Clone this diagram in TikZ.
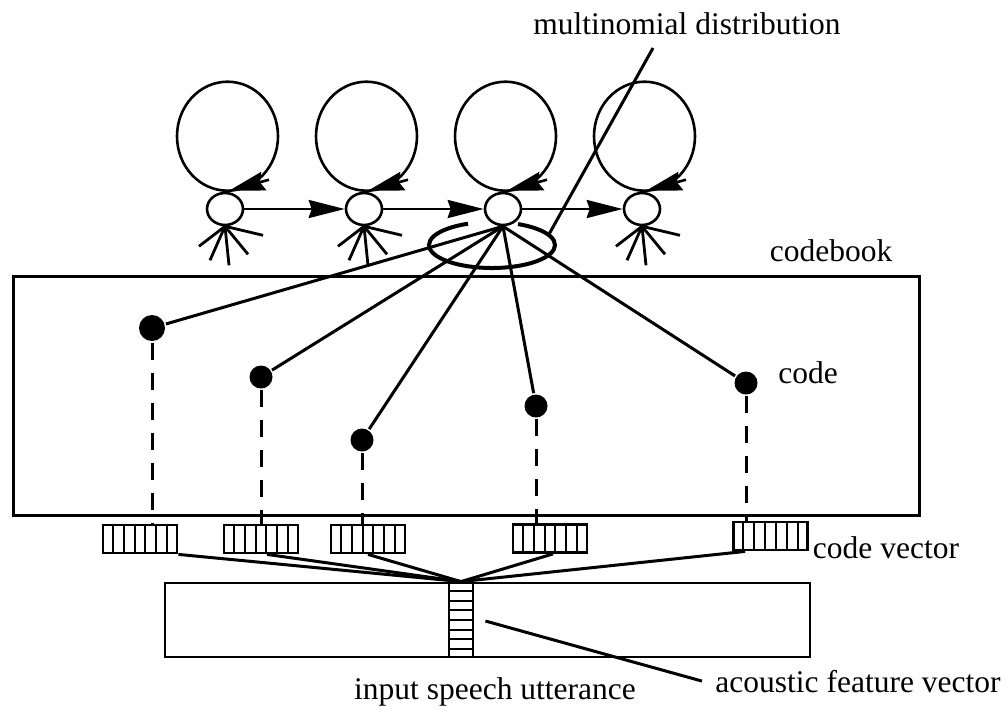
\documentclass[tikz,border=0pt]{standalone}
\usepackage{fontspec}
\setmainfont{Liberation Serif}
\usetikzlibrary{shapes.geometric,arrows.meta,calc}

\begin{document}
\begin{tikzpicture}[x=1pt,y=-1pt,line width=3pt,
  state/.style={draw,ellipse,minimum width=36pt,minimum height=32pt,inner sep=0pt,line width=2.6pt},
  codept/.style={circle,fill=black,inner sep=0pt,minimum size=23pt},
  cvec/.style={draw,rectangle,minimum width=74pt,minimum height=28pt,inner sep=0pt,line width=2.8pt},
  txt/.style={font=\fontsize{31.5}{36}\selectfont,inner sep=2pt,anchor=base},
  fwd/.style={line width=2.6pt,-{Stealth[length=36pt,width=18pt,inset=3pt]}},
  loopend/.style={line width=2.6pt,-{Stealth[length=36pt,width=19pt,inset=4pt]}},
  leg/.style={line width=2.8pt},
  dashline/.style={line width=3pt,dash pattern=on 17pt off 13pt},
  thinrule/.style={line width=2pt}]

\fill[white] (0,0) rectangle (1008,713);
\useasboundingbox (0,0) rectangle (1008,713);

% HMM states
\node[state] (s1) at (225,209) {};
\node[state] (s2) at (364,209) {};
\node[state] (s3) at (503,209) {};
\node[state] (s4) at (642,209) {};

% self loops
\foreach \s in {s1,s2,s3,s4} {
  \draw[line width=2.6pt] ($(\s.north)+(2.5,-55.5)$) ellipse [x radius=50.5, y radius=54.5];
  \draw[loopend] ($(\s.north)+(44,-12)$) -- ($(\s.north)+(4,-1)$);
}

% transitions
\draw[fwd] (s1) -- (s2);
\draw[fwd] (s2) -- (s3);
\draw[fwd] (s3) -- (s4);

% output branches of the other states
\foreach \s in {s1,s2,s4} {
  \foreach \dx/\dy in {-26/20,-15/34,4/39,23/28,38/9}
    \draw[leg] (\s.south) -- ++(\dx,\dy);
}

% codebook
\node[draw,line width=3pt,minimum width=906pt,minimum height=239pt,inner sep=0pt] (cb) at (466,395.5) {};

\node[codept,minimum size=26pt] (c1) at (152,328) {};
\node[codept] (c2) at (261,377) {};
\node[codept] (c3) at (362,440) {};
\node[codept] (c4) at (536,406) {};
\node[codept] (c5) at (746,383) {};

\foreach \c in {c1,c2,c3,c4,c5}
  \draw (s3.south) -- (\c);

% multinomial distribution of state 3
\draw[line width=4pt] ([shift={(247.6:63 and 23)}]492,245)
  arc[start angle=247.6, end angle=-65.6, x radius=63, y radius=23];

% code vectors
\node[cvec] (v1) at (140,539) {};
\node[cvec] (v2) at (261,539) {};
\node[cvec] (v3) at (368,539) {};
\node[cvec] (v4) at (550,538.5) {};
\node[cvec] (v5) at (770.5,536) {};
\foreach \v in {v1,v2,v3,v4,v5}
  \foreach \k in {1,...,6}
    \draw[thinrule] ($(\v.north west)!\k/7!(\v.north east)$) -- ($(\v.south west)!\k/7!(\v.south east)$);

\foreach \c/\v in {c1/v1,c2/v2,c3/v3,c4/v4,c5/v5}
  \draw[dashline] (\c.south) -- (\c |- \v.north);

% input utterance and feature vector
\node[draw,line width=2.8pt,minimum width=645pt,minimum height=74pt,inner sep=0pt] (utt) at (487.5,620) {};
\node[draw,fill=white,line width=2.8pt,minimum width=24pt,minimum height=74pt,inner sep=0pt] (fv) at (461,620) {};
\foreach \k in {1,...,7}
  \draw[thinrule] ($(fv.north west)!\k/8!(fv.south west)$) -- ($(fv.north east)!\k/8!(fv.south east)$);

\draw (v1.south east) -- (fv.north);
\draw ([xshift=6pt]v2.south) -- (fv.north);
\draw (v3.south) -- (fv.north);
\draw ([xshift=3pt]v4.south) -- (fv.north);
\draw ([xshift=13pt]v5.south west) -- (fv.north);

% labels
\node[txt] (mn) at (687,34) {multinomial distribution};
\node[txt] (cbl) at (831,261) {codebook};
\node[txt] (cdl) at (808,383) {code};
\node[txt] (cvl) at (886,558) {code vector};
\node[txt] (inl) at (495,699) {input speech utterance};
\node[txt] (acl) at (858,692) {acoustic feature vector};

\coordinate (mntop) at (653,48);
\coordinate (mnend) at (548,236);
\draw (mntop) -- (mnend);

\coordinate (fvpt) at ($(fv.east)+(11,1)$);
\draw (fvpt) -- ([xshift=-10pt]acl.west);
\end{tikzpicture}
\end{document}
